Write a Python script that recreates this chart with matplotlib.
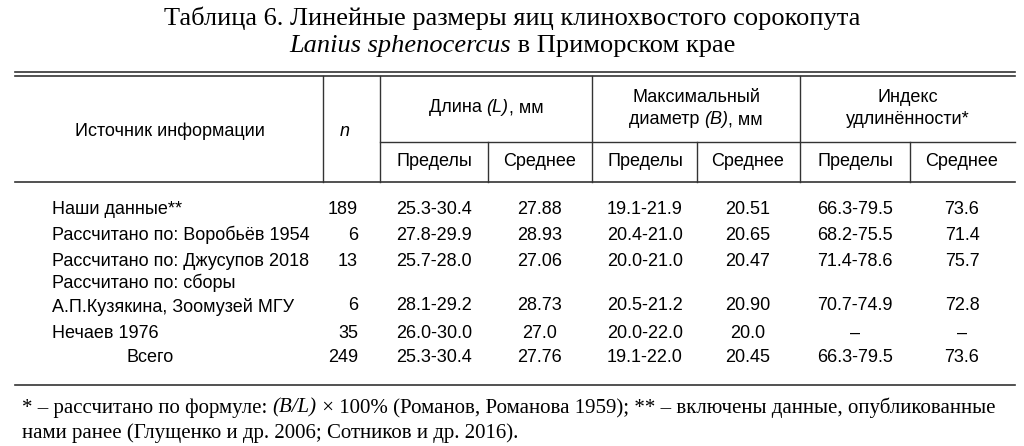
import matplotlib.pyplot as plt

sources = ["Наши данные**", "Рассчитано по: Воробьёв 1954", "Рассчитано по: Джусупов 2018",
           "Рассчитано по: сборы\nА.П.Кузякина, Зоомузей МГУ", "Нечаев 1976", "Всего"]
n_vals = ["189", "6", "13", "6", "35", "249"]
len_range = ["25.3-30.4", "27.8-29.9", "25.7-28.0", "28.1-29.2", "26.0-30.0", "25.3-30.4"]
len_mean = ["27.88", "28.93", "27.06", "28.73", "27.0", "27.76"]
diam_range = ["19.1-21.9", "20.4-21.0", "20.0-21.0", "20.5-21.2", "20.0-22.0", "19.1-22.0"]
diam_mean = ["20.51", "20.65", "20.47", "20.90", "20.0", "20.45"]
idx_range = ["66.3-79.5", "68.2-75.5", "71.4-78.6", "70.7-74.9", "–", "66.3-79.5"]
idx_mean = ["73.6", "71.4", "75.7", "72.8", "–", "73.6"]
row_y = [209, 235, 261, 295, 333, 358]

fig = plt.figure(figsize=(10.24, 4.46), dpi=100)
ax = fig.add_axes([0, 0, 1, 1])
ax.set_xlim(0, 1024)
ax.set_ylim(446, 0)
ax.axis("off")
fig.canvas.draw()
renderer = fig.canvas.get_renderer()

serif = "Liberation Serif"
sans = "Liberation Sans"
fs = 13


def pieces(x, y, parts, family, size, ha="left"):
    # parts: list of (text, italic); draw side by side
    objs = []
    for s, it in parts:
        objs.append(ax.text(0, y, s, ha="left", va="center", family=family, fontsize=size,
                            style="italic" if it else "normal"))
    widths = []
    for t in objs:
        bb = t.get_window_extent(renderer)
        widths.append(bb.width)
    total = sum(widths)
    cur = x - total / 2 if ha == "center" else x
    for t, w in zip(objs, widths):
        t.set_x(cur)
        cur += w


pieces(512, 18, [("Таблица 6. Линейные размеры яиц клинохвостого сорокопута", False)],
       serif, 19, ha="center")
pieces(512, 46, [("Lanius sphenocercus", True), (" в Приморском крае", False)],
       serif, 19, ha="center")

# lines
lc = "#333333"
ax.plot([15, 1015], [72, 72], color=lc, lw=1.2)
ax.plot([15, 1015], [75.5, 75.5], color=lc, lw=1.2)
ax.plot([15, 1015], [182, 182], color=lc, lw=1.2)
ax.plot([380, 1015], [142, 142], color=lc, lw=1)
for x in [323, 380, 592, 800]:
    ax.plot([x, x], [75.5, 182], color=lc, lw=1)
for x in [488, 697, 910]:
    ax.plot([x, x], [142, 182], color=lc, lw=1)
ax.plot([15, 1015], [385, 385], color=lc, lw=1.2)

# header
ax.text(170, 131, "Источник информации", ha="center", va="center", family=sans, fontsize=fs)
ax.text(345, 131, "n", ha="center", va="center", family=sans, fontsize=fs, style="italic")
pieces(486, 108, [("Длина ", False), ("(L)", True), (", мм", False)], sans, fs, ha="center")
ax.text(696, 98, "Максимальный", ha="center", va="center", family=sans, fontsize=fs)
pieces(696, 120, [("диаметр ", False), ("(B)", True), (", мм", False)], sans, fs, ha="center")
ax.text(908, 98, "Индекс", ha="center", va="center", family=sans, fontsize=fs)
ax.text(908, 120, "удлинённости*", ha="center", va="center", family=sans, fontsize=fs)
col_x = [434, 540, 645, 748, 855, 962]
for x, lab in zip(col_x, ["Пределы", "Среднее"] * 3):
    ax.text(x, 162, lab, ha="center", va="center", family=sans, fontsize=fs)

# body
cols = [len_range, len_mean, diam_range, diam_mean, idx_range, idx_mean]
for i, y in enumerate(row_y):
    if sources[i] == "Всего":
        ax.text(150, y, sources[i], ha="center", va="center", family=sans, fontsize=fs)
    else:
        ax.text(52, y, sources[i], ha="left", va="center", family=sans, fontsize=fs,
                linespacing=1.4)
    yv = y + 11 if "\n" in sources[i] else y
    ax.text(358, yv, n_vals[i], ha="right", va="center", family=sans, fontsize=fs)
    for x, col in zip(col_x, cols):
        ax.text(x, yv, col[i], ha="center", va="center", family=sans, fontsize=fs)

# footnote
pieces(22, 408, [("* – рассчитано по формуле: ", False), ("(B/L)", True),
                 (" × 100% (Романов, Романова 1959); ** – включены данные, опубликованные", False)],
       serif, 15)
pieces(22, 433, [("нами ранее (Глущенко и др. 2006; Сотников и др. 2016).", False)], serif, 15)

fig.savefig("out.png", dpi=100)
